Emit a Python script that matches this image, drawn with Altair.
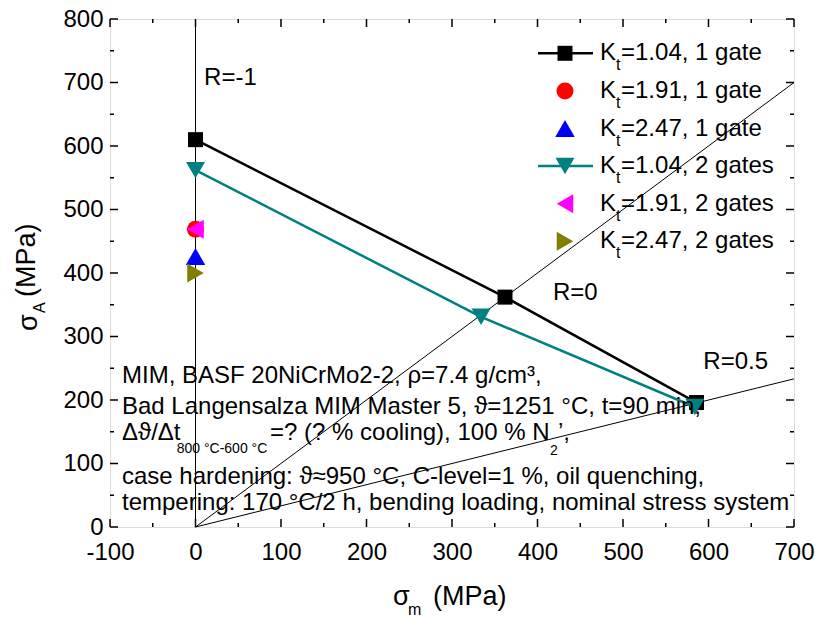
import altair as alt
import pandas as pd

# ---------------- data ----------------
series_names = ["Kt=1.04, 1 gate", "Kt=1.91, 1 gate", "Kt=2.47, 1 gate",
                "Kt=1.04, 2 gates", "Kt=1.91, 2 gates", "Kt=2.47, 2 gates"]
legend_rest = ["=1.04, 1 gate", "=1.91, 1 gate", "=2.47, 1 gate",
               "=1.04, 2 gates", "=1.91, 2 gates", "=2.47, 2 gates"]

kt104_1g_mean = [0, 362, 586]
kt104_1g_ampl = [610, 362, 196]
kt191_1g_mean = [0]
kt191_1g_ampl = [469]
kt247_1g_mean = [0]
kt247_1g_ampl = [426]
kt104_2g_mean = [0, 334, 584]
kt104_2g_ampl = [562, 331, 189]
kt191_2g_mean = [0]
kt191_2g_ampl = [469]
kt247_2g_mean = [0]
kt247_2g_ampl = [400]

# stress-ratio reference lines (R=-1, R=0, R=0.5)
ref_names = ["R=-1", "R=-1", "R=0", "R=0", "R=0.5", "R=0.5"]
ref_mean = [0, 0, 0, 700, 0, 700]
ref_ampl = [0, 800, 0, 700, 0, 233.3]

x_tick_labels = [-100, 0, 100, 200, 300, 400, 500, 600, 700]
y_tick_labels = [0, 100, 200, 300, 400, 500, 600, 700, 800]
x_minor = [-100, -50, 0, 50, 100, 150, 200, 250, 300, 350, 400, 450, 500, 550, 600, 650, 700]
y_minor = [0, 50, 100, 150, 200, 250, 300, 350, 400, 450, 500, 550, 600, 650, 700, 750, 800]

# ---------------- styles ----------------
series_colors = ["#000000", "#ff0000", "#0000ff", "#008080", "#ff00ff", "#808000"]
series_shapes = ["square", "circle", "triangle-up", "triangle-down", "triangle-left", "triangle-right"]
series_sizes = [225, 290, 380, 361, 361, 361]
with_line = [True, False, False, True, False, False]

FONT = "Liberation Sans"
W, H = 684, 508

# ---------------- tables ----------------
means = [kt104_1g_mean, kt191_1g_mean, kt247_1g_mean, kt104_2g_mean, kt191_2g_mean, kt247_2g_mean]
ampls = [kt104_1g_ampl, kt191_1g_ampl, kt247_1g_ampl, kt104_2g_ampl, kt191_2g_ampl, kt247_2g_ampl]
rows = []
for i, name in enumerate(series_names):
    for k, (m, a) in enumerate(zip(means[i], ampls[i])):
        rows.append({"series": name, "sm": m, "sa": a, "order": k,
                     "col": series_colors[i], "shp": series_shapes[i],
                     "sz": series_sizes[i], "line": with_line[i], "idx": i})
df = pd.DataFrame(rows)
ref_df = pd.DataFrame({"name": ref_names, "sm": ref_mean, "sa": ref_ampl})

xs = alt.Scale(domain=[-100, 700], nice=False, zero=False)
ys = alt.Scale(domain=[0, 800], nice=False, zero=False)
xaxis = alt.Axis(values=x_tick_labels, title=None, ticks=False, tickSize=0, domain=False,
                 grid=False, labelFontSize=24, labelFont=FONT, labelColor="black",
                 labelPadding=13, labelFlush=False, labelOverlap=False,
                 labelExpr="'' + datum.value")
yaxis = alt.Axis(values=y_tick_labels, title=None, ticks=False, tickSize=0, domain=False,
                 grid=False, labelFontSize=24, labelFont=FONT, labelColor="black",
                 labelPadding=7, labelFlush=False, labelOverlap=False,
                 labelExpr="'' + datum.value")
xenc = alt.X("sm:Q", scale=xs, axis=xaxis)
yenc = alt.Y("sa:Q", scale=ys, axis=yaxis)

ref_layer = alt.Chart(ref_df).mark_line(color="black", strokeWidth=1).encode(
    x=xenc, y=yenc, detail="name:N")

line_layer = alt.Chart(df[df["line"]]).mark_line(strokeWidth=2.5).encode(
    x=xenc, y=yenc, detail="series:N", order="order:Q",
    color=alt.Color("col:N", scale=None))

point_layer = alt.Chart(df).mark_point(filled=True, opacity=1).encode(
    x=xenc, y=yenc,
    color=alt.Color("col:N", scale=None),
    shape=alt.Shape("shp:N", scale=None),
    size=alt.Size("sz:Q", scale=None),
    order=alt.Order("idx:Q"))

# R annotations (data coordinates)
r_df = pd.DataFrame({"t": ["R=-1", "R=0", "R=0.5"], "sm": [10, 418, 594], "sa": [707, 368, 260]})
r_layer = alt.Chart(r_df).mark_text(align="left", baseline="middle", font=FONT, fontSize=24,
                                    color="black").encode(x=xenc, y=yenc, text="t:N")

# ticks (inward, Origin style)
xt = pd.DataFrame({"sm": x_minor})
xt["len"] = [8 if v % 100 == 0 else 4 for v in x_minor]
xt_all = pd.concat([xt.assign(p0=H, p1=H - xt["len"]), xt.assign(p0=0, p1=xt["len"])])
yt = pd.DataFrame({"sa": y_minor})
yt["len"] = [8 if v % 100 == 0 else 4 for v in y_minor]
yt_all = pd.concat([yt.assign(p0=0, p1=yt["len"]), yt.assign(p0=W - yt["len"], p1=W)])
xtick_layer = alt.Chart(xt_all).mark_rule(color="black", strokeWidth=1.5).encode(
    x=xenc, y=alt.Y("p0:Q", scale=None), y2=alt.Y2("p1"))
ytick_layer = alt.Chart(yt_all).mark_rule(color="black", strokeWidth=1.5).encode(
    y=yenc, x=alt.X("p0:Q", scale=None), x2=alt.X2("p1"))

# legend (pixel layout)
leg_y = [34.3 + 37.6 * i for i in range(len(series_names))]
leg = pd.DataFrame({"ly": leg_y, "col": series_colors, "shp": series_shapes,
                    "sz": series_sizes, "line": with_line, "rest": legend_rest})
leg_lines = alt.Chart(leg[leg["line"]]).mark_rule(strokeWidth=2.5).encode(
    x=alt.value(428), x2=alt.value(483), y=alt.Y("ly:Q", scale=None),
    color=alt.Color("col:N", scale=None))
leg_pts = alt.Chart(leg).mark_point(filled=True, opacity=1).encode(
    x=alt.value(455), y=alt.Y("ly:Q", scale=None),
    color=alt.Color("col:N", scale=None),
    shape=alt.Shape("shp:N", scale=None),
    size=alt.Size("sz:Q", scale=None))
leg_k = alt.Chart(leg).mark_text(align="left", baseline="middle", font=FONT, fontSize=24,
                                 color="black", text="K").encode(
    x=alt.value(490), y=alt.Y("ly:Q", scale=None))
leg_t = alt.Chart(leg.assign(ty=leg["ly"] + 12)).mark_text(
    align="left", baseline="middle", font=FONT, fontSize=16, color="black", text="t").encode(
    x=alt.value(506), y=alt.Y("ty:Q", scale=None))
leg_rest = alt.Chart(leg).mark_text(align="left", baseline="middle", font=FONT, fontSize=24,
                                    color="black").encode(
    x=alt.value(511), y=alt.Y("ly:Q", scale=None), text="rest:N")

# text block and axis titles (pixel layout)
txt = pd.DataFrame([
    {"t": "MIM, BASF 20NiCrMo2-2, ρ=7.4 g/cm³,", "px": 12, "py": 357, "fs": 24},
    {"t": "Bad Langensalza MIM Master 5, ϑ=1251 °C, t=90 min,", "px": 12, "py": 387.5, "fs": 24},
    {"t": "Δϑ/Δt", "px": 12, "py": 414, "fs": 24},
    {"t": "800 °C-600 °C", "px": 66.7, "py": 430, "fs": 14},
    {"t": "=? (? % cooling), 100 % N", "px": 160, "py": 414, "fs": 24},
    {"t": "2", "px": 440, "py": 432, "fs": 14},
    {"t": "’,", "px": 448, "py": 414, "fs": 24},
    {"t": "case hardening: ϑ≈950 °C, C-level=1 %, oil quenching,", "px": 12, "py": 457.7, "fs": 24},
    {"t": "tempering: 170 °C/2 h, bending loading, nominal stress system", "px": 12, "py": 484, "fs": 24},
    {"t": "σ", "px": 283, "py": 578, "fs": 27},
    {"t": "m", "px": 298, "py": 591, "fs": 16},
    {"t": "(MPa)", "px": 323, "py": 578, "fs": 27},
])
txt_layer = alt.Chart(txt).mark_text(align="left", baseline="middle", font=FONT,
                                     color="black").encode(
    x=alt.X("px:Q", scale=None), y=alt.Y("py:Q", scale=None),
    text="t:N", size=alt.Size("fs:Q", scale=None))

ytitle = pd.DataFrame([
    {"t": "σ", "px": -81.5, "py": 312, "fs": 27},
    {"t": "A", "px": -70, "py": 294, "fs": 16},
    {"t": "(MPa)", "px": -83, "py": 278, "fs": 27},
])
ytitle_layer = alt.Chart(ytitle).mark_text(align="left", baseline="middle", font=FONT,
                                           color="black", angle=270).encode(
    x=alt.X("px:Q", scale=None), y=alt.Y("py:Q", scale=None),
    text="t:N", size=alt.Size("fs:Q", scale=None))

chart = alt.layer(
    ref_layer, line_layer, point_layer, r_layer, xtick_layer, ytick_layer,
    leg_lines, leg_pts, leg_k, leg_t, leg_rest, txt_layer, ytitle_layer
).properties(
    width=W, height=H, autosize="none",
    padding={"left": 110, "top": 19, "right": 28, "bottom": 90},
).configure_view(stroke="black", strokeWidth=2).configure(background="white")

chart.save("out.html", embed_options={"renderer": "svg", "actions": False})
